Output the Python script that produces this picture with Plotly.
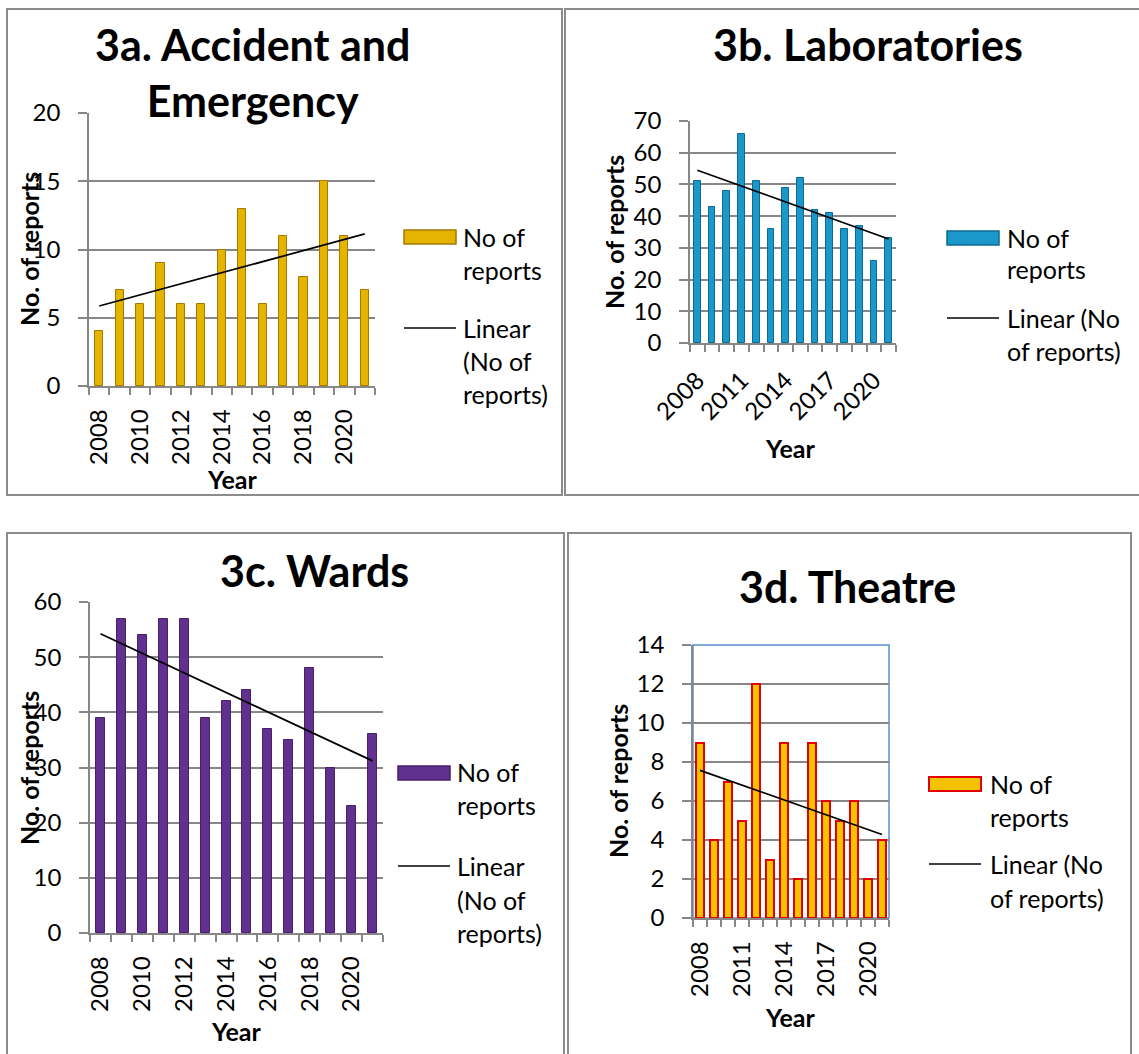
import numpy as np
import plotly.graph_objects as go

W, H = 1139, 1054

years = list(range(2008, 2022))

# report counts per year
accident_emergency = [4, 7, 6, 9, 6, 6, 10, 13, 6, 11, 8, 15, 11, 7]
laboratories = [51, 43, 48, 66, 51, 36, 49, 52, 42, 41, 36, 37, 26, 33]
wards = [39, 57, 54, 57, 57, 39, 42, 44, 37, 35, 48, 30, 23, 36]
theatre = [9, 4, 7, 5, 12, 3, 9, 2, 9, 6, 5, 6, 2, 4]

ticks_every_2 = [2008, 2010, 2012, 2014, 2016, 2018, 2020]
ticks_every_3 = [2008, 2011, 2014, 2017, 2020]

FONT = "Lato"


def px(x):
    return x / W


def py(y):
    return 1 - y / H


# panel settings: pixel boxes in the page
panels = [
    dict(values=accident_emergency, title="3a. Accident and<br>Emergency",
         title_xy=(253, 72), box=(7, 9, 562, 495),
         plot=(89, 113, 375, 386), ymax=20, dtick=5,
         xticks=ticks_every_2, tickangle=-90, bar_w=0.4,
         fill="#E5B400", edge="#A47A00", edge_w=1,
         ytitle_xy=(29, 249), xtitle_xy=(232, 479),
         legend_x=404, legend_text_x=461,
         legend_lines=[(237, "No of"), (270, "reports"), (328, "Linear"),
                       (361, "(No of"), (394, "reports)")],
         legend_bar_y=237, legend_line_y=328),
    dict(values=laboratories, title="3b. Laboratories",
         title_xy=(868, 44), box=(565, 9, 1145, 495),
         plot=(690, 121, 896, 343), ymax=70, dtick=10,
         xticks=ticks_every_3, tickangle=-45, bar_w=0.45,
         fill="#1C97C9", edge="#0D6A94", edge_w=1,
         ytitle_xy=(614, 232), xtitle_xy=(790, 448),
         legend_x=947, legend_text_x=1005,
         legend_lines=[(238, "No of"), (269, "reports"), (318, "Linear (No"),
                       (351, "of reports)")],
         legend_bar_y=238, legend_line_y=318),
    dict(values=wards, title="3c. Wards",
         title_xy=(314, 570), box=(7, 533, 564, 1060),
         plot=(90, 602, 383, 933), ymax=60, dtick=10,
         xticks=ticks_every_2, tickangle=-90, bar_w=0.43,
         fill="#62308E", edge="#46206A", edge_w=1,
         ytitle_xy=(29, 768), xtitle_xy=(236, 1031),
         legend_x=398, legend_text_x=455,
         legend_lines=[(772, "No of"), (805, "reports"), (866, "Linear"),
                       (900, "(No of"), (933, "reports)")],
         legend_bar_y=773, legend_line_y=866),
    dict(values=theatre, title="3d. Theatre",
         title_xy=(848, 586), box=(568, 533, 1131, 1060),
         plot=(693, 645, 889, 918), ymax=14, dtick=2,
         xticks=ticks_every_3, tickangle=-90, bar_w=0.55,
         fill="#F4C300", edge="#E30000", edge_w=2,
         ytitle_xy=(618, 781), xtitle_xy=(790, 1017),
         legend_x=929, legend_text_x=988,
         legend_lines=[(784, "No of"), (817, "reports"), (864, "Linear (No"),
                       (898, "of reports)")],
         legend_bar_y=784, legend_line_y=864),
]

fig = go.Figure()
shapes = []
annotations = []
GRID = "#878787"

for i, p in enumerate(panels, start=1):
    xa = "x" if i == 1 else f"x{i}"
    ya = "y" if i == 1 else f"y{i}"
    vals = np.array(p["values"], dtype=float)

    # panel frame
    bx0, by0, bx1, by1 = p["box"]
    shapes.append(dict(type="rect", xref="paper", yref="paper",
                       x0=px(bx0), x1=px(bx1), y0=py(by1), y1=py(by0),
                       line=dict(color="#8C8C8C", width=2), layer="below"))

    fig.add_trace(go.Bar(x=years, y=p["values"], width=p["bar_w"],
                         marker=dict(color=p["fill"],
                                     line=dict(color=p["edge"], width=p["edge_w"])),
                         xaxis=xa, yaxis=ya, showlegend=False))

    # Excel-style linear trend line
    slope, intercept = np.polyfit(np.arange(len(vals)), vals, 1)
    trend = intercept + slope * np.arange(len(vals))
    fig.add_trace(go.Scatter(x=years, y=trend, mode="lines",
                             line=dict(color="black", width=1.7),
                             xaxis=xa, yaxis=ya, showlegend=False))

    x0, y0, x1, y1 = p["plot"]
    xkey = "xaxis" if i == 1 else f"xaxis{i}"
    ykey = "yaxis" if i == 1 else f"yaxis{i}"
    fig.update_layout({
        xkey: dict(domain=[px(x0), px(x1)], anchor=ya, range=[2007.5, 2021.5],
                   automargin=False,
                   tickmode="array", tickvals=p["xticks"],
                   ticktext=[str(t) for t in p["xticks"]],
                   tickangle=p["tickangle"], ticks="",
                   ticklabelstandoff=12,
                   showline=True, linecolor=GRID, linewidth=1.5,
                   showgrid=False, zeroline=False,
                   minor=dict(tickmode="array",
                              tickvals=[y - 0.5 for y in years] + [2021.5],
                              ticks="outside", ticklen=7, tickcolor=GRID,
                              tickwidth=1.5, showgrid=False),
                   tickfont=dict(family=FONT, size=24, color="black"),
                   fixedrange=True),
        ykey: dict(domain=[py(y1), py(y0)], anchor=xa, range=[0, p["ymax"]],
                   automargin=False,
                   dtick=p["dtick"], tick0=0, ticks="outside", ticklen=9,
                   tickcolor=GRID, tickwidth=1.5, ticklabelstandoff=13,
                   showline=True, linecolor=GRID, linewidth=1.5,
                   showgrid=True, gridcolor=GRID, gridwidth=1.5,
                   zeroline=False,
                   tickfont=dict(family=FONT, size=24, color="black"),
                   fixedrange=True),
    })

    if i == 4:
        # blue plot-area border seen on the theatre chart
        shapes.append(dict(type="rect", xref="x4 domain", yref="y4 domain",
                           x0=0, x1=1, y0=0, y1=1,
                           line=dict(color="#5B8FCC", width=1.5), layer="below"))

    # titles
    tx, ty = p["title_xy"]
    annotations.append(dict(text=f"<b>{p['title']}</b>", x=px(tx), y=py(ty),
                            xref="paper", yref="paper", showarrow=False,
                            xanchor="center", yanchor="middle",
                            font=dict(family=FONT, size=43, color="black")))
    yx, yy = p["ytitle_xy"]
    annotations.append(dict(text="<b>No. of reports</b>", x=px(yx), y=py(yy),
                            xref="paper", yref="paper", showarrow=False,
                            textangle=-90, xanchor="center", yanchor="middle",
                            font=dict(family=FONT, size=25, color="black")))
    xx, xy = p["xtitle_xy"]
    annotations.append(dict(text="<b>Year</b>", x=px(xx), y=py(xy),
                            xref="paper", yref="paper", showarrow=False,
                            xanchor="center", yanchor="middle",
                            font=dict(family=FONT, size=25, color="black")))

    # hand-drawn legend (wide Excel swatches)
    lx = p["legend_x"]
    lb = p["legend_bar_y"]
    shapes.append(dict(type="rect", xref="paper", yref="paper",
                       x0=px(lx), x1=px(lx + 52), y0=py(lb + 7), y1=py(lb - 7),
                       fillcolor=p["fill"],
                       line=dict(color=p["edge"], width=max(p["edge_w"], 1.5))))
    ll = p["legend_line_y"]
    shapes.append(dict(type="line", xref="paper", yref="paper",
                       x0=px(lx), x1=px(lx + 52), y0=py(ll), y1=py(ll),
                       line=dict(color="black", width=1.7)))
    for ly, txt in p["legend_lines"]:
        annotations.append(dict(text=txt, x=px(p["legend_text_x"]), y=py(ly),
                                xref="paper", yref="paper", showarrow=False,
                                xanchor="left", yanchor="middle",
                                font=dict(family=FONT, size=25, color="black")))

fig.update_layout(width=W, height=H, margin=dict(l=0, r=0, t=0, b=0, pad=0),
                  paper_bgcolor="white", plot_bgcolor="white",
                  bargap=0, shapes=shapes, annotations=annotations,
                  showlegend=False)

fig.write_html("out.html", config={"displayModeBar": False},
               post_script="document.body.style.margin='0';")
